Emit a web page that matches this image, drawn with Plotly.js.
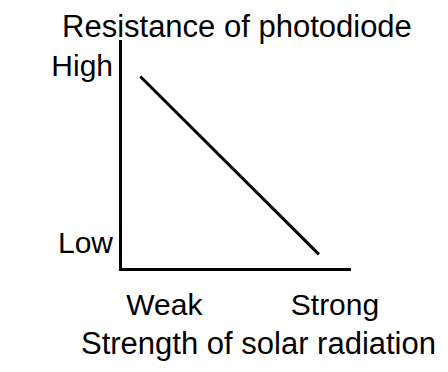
<!DOCTYPE html>
<html>
<head>
<meta charset="utf-8">
<script src="https://cdn.plot.ly/plotly-3.0.1.min.js"></script>
<style>html,body{margin:0;padding:0;background:#fff;}#chart{width:448px;height:372px;}</style>
</head>
<body>
<div id="chart"></div>
<script>
// Data
const strength = [0.8, 8.6];          // strength of solar radiation (arbitrary units)
const resistance = [8.4, 0.6];        // resistance of photodiode (arbitrary units)
const xTickVals = [1.85, 9.3];
const xTickText = ['Weak', 'Strong'];
const yTickVals = [8.9, 1.1];
const yTickText = ['High', 'Low'];
const titleText = 'Resistance of photodiode';
const xLabelText = 'Strength of solar radiation';

const FONT = 'Liberation Sans, Arial, sans-serif';
const trace = {
  x: strength, y: resistance, type: 'scatter', mode: 'lines',
  line: {color: '#000', width: 3}, hoverinfo: 'skip'
};
const layout = {
  width: 448, height: 372,
  margin: {l: 122, r: 97, t: 40, b: 104},
  paper_bgcolor: '#fff', plot_bgcolor: '#fff',
  showlegend: false,
  font: {family: FONT, size: 30, color: '#000'},
  xaxis: {
    range: [0, 10], showgrid: false, zeroline: false,
    showline: true, linecolor: '#000', linewidth: 3,
    tickvals: xTickVals, ticktext: xTickText, ticks: '',
    ticklabelstandoff: 8,
    tickfont: {family: FONT, size: 30, color: '#000'}
  },
  yaxis: {
    range: [0, 10], showgrid: false, zeroline: false,
    showline: true, linecolor: '#000', linewidth: 3,
    tickvals: yTickVals, ticktext: yTickText, ticks: '',
    ticklabelstandoff: 0,
    tickfont: {family: FONT, size: 30, color: '#000'}
  },
  annotations: [
    {text: titleText, xref: 'paper', yref: 'paper', x: 0.5, y: 1,
     xanchor: 'center', yanchor: 'bottom', showarrow: false, yshift: -6,
     font: {family: FONT, size: 31, color: '#000'}},
    {text: xLabelText, xref: 'paper', yref: 'paper', x: 0.5, y: 0,
     xanchor: 'center', yanchor: 'top', showarrow: false, yshift: -56,
     font: {family: FONT, size: 31, color: '#000'}}
  ]
};
// title center at x≈237 px, x label center at x≈258 px
layout.annotations[0].x = (237 - 122) / 229;
layout.annotations[1].x = (258 - 122) / 229;
Plotly.newPlot('chart', [trace], layout, {staticPlot: true, displayModeBar: false});
</script>
</body>
</html>
